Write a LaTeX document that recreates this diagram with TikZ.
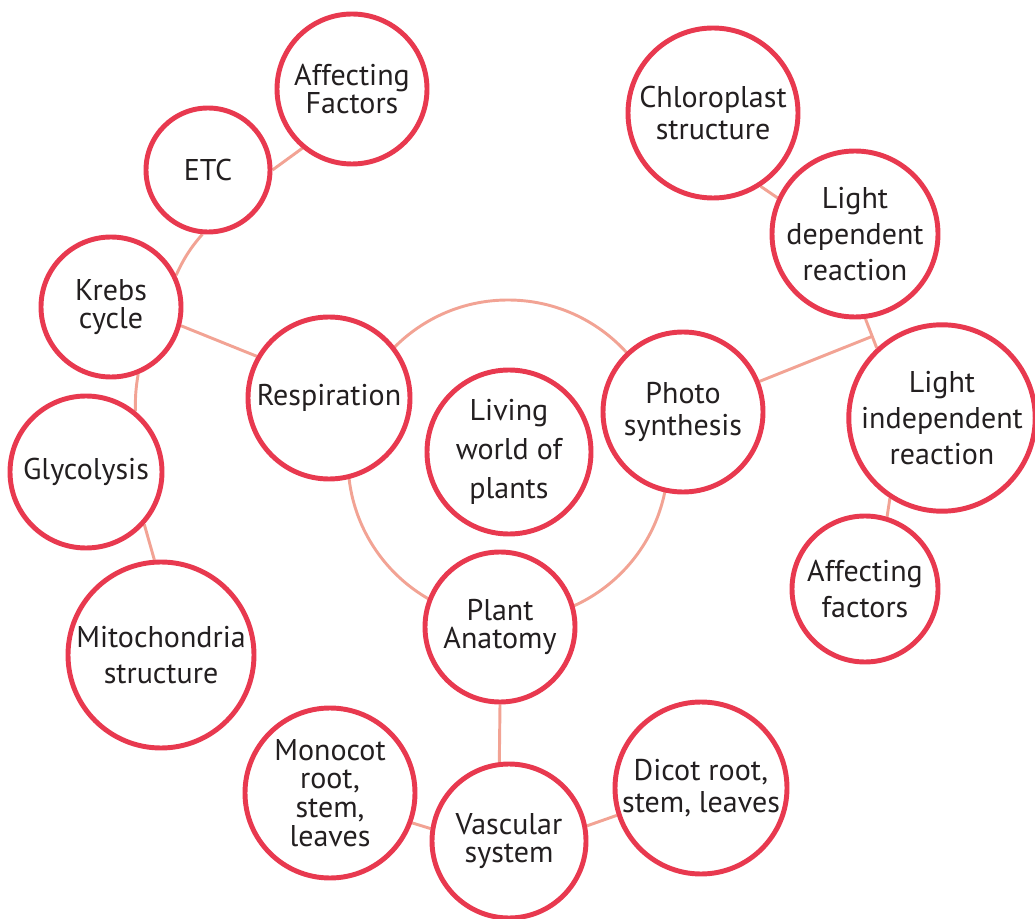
\documentclass[tikz,border=0pt]{standalone}
\usepackage{fontspec}
\setmainfont{PT Sans}
\usetikzlibrary{calc,backgrounds}
\definecolor{bubred}{HTML}{E8394F}
\definecolor{linkpink}{HTML}{F2A394}
\definecolor{ink}{HTML}{231F20}
\tikzset{
	bub/.style={circle, draw=bubred, line width=3.7pt, fill=white, text=ink, align=center, inner sep=0pt, minimum size={1.5pt*#1}},
	link/.style={draw=linkpink, line width=2.2pt},
	tight/.style={font=\fontsize{22.5}{21.5}\selectfont},
	mid/.style={font=\fontsize{22.5}{24.5}\selectfont},
	loose/.style={font=\fontsize{22.5}{27}\selectfont}
}
\begin{document}
\begin{tikzpicture}[x=0.75pt, y=-0.75pt, font=\fontsize{22.5}{24}\selectfont, line join=round, line cap=round]
			\useasboundingbox (0,0) rectangle (1035,919);
			\path 
			(509,452) node[bub=82,font=\fontsize{22.5}{29}\selectfont] (lw) {Living\\world of\\plants}
			(329,398) node[bub=81] (resp) {Respiration}
			(683,412) node[bub=80,mid] (ps) {Photo\\synthesis}
			(500,627) node[bub=75,tight] (pa) {Plant\\Anatomy}
			(352,89) node[bub=75,tight] (af) {Affecting\\Factors}
			(208,170) node[bub=62] (etc) {ETC}
			(111,307) node[bub=70,tight] (krebs) {Krebs\\cycle}
			(86,472) node[bub=76] (gly) {Glycolysis}
			(161,655) node[bub=93,loose] (mito) {Mitochondria\\structure}
			(713,113) node[bub=85,mid] (chl) {Chloroplast\\structure}
			(855,234) node[bub=83,loose] (ld) {Light\\dependent\\reaction}
			(942,418) node[bub=92,loose] (li) {Light\\independent\\reaction}
			(865,589) node[bub=73,loose] (afr) {Affecting\\factors}
			(509,841) node[bub=77,tight] (vs) {Vascular\\system}
			(330,793) node[bub=85,tight] (mono) {Monocot\\root,\\stem,\\leaves}
			(701,788) node[bub=86,mid] (dicot) {Dicot root,\\stem, leaves}
			;
			\coordinate (j) at ($(ld.277)!0.6!(li.133)$);
			\begin{scope}[on background layer]
			\draw[link] (508,460) circle (120pt);
			\draw[link] (etc.265) to[bend right=8] (krebs.26);
			\draw[link] (krebs.292) to[bend right=5] (gly.51);
			\foreach \a/\b in {etc.0/af.230, gly.318/mito.94, krebs.345/resp.150, chl.303/ld.155, ld.277/li.133, li.237/afr.73, ps/j, pa.270/vs.97, mono.340/vs.171, vs.11/dicot.198}
			\draw[link] (\a) -- (\b);
			\end{scope}
\end{tikzpicture}
\end{document}
